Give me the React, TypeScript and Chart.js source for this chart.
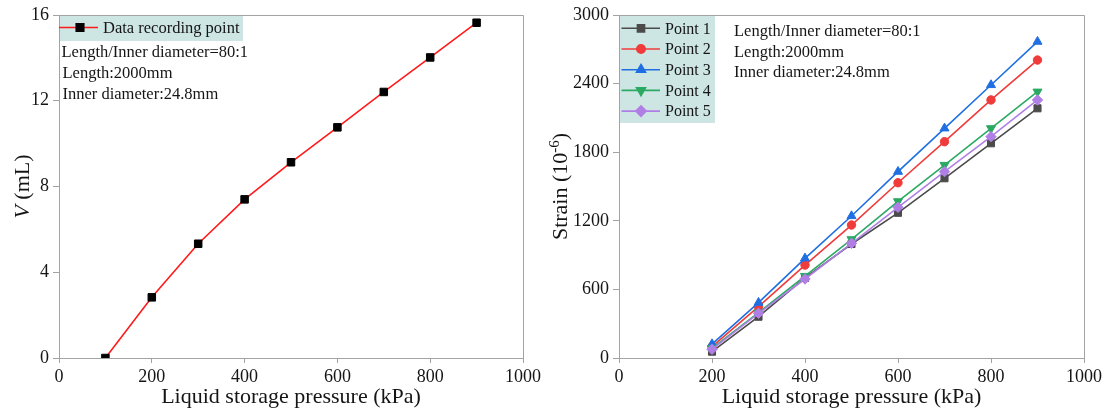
import React, { useEffect, useRef } from 'react';
import { Chart, registerables } from 'chart.js';
import { drawPoint } from 'chart.js/helpers';

Chart.register(...registerables);

const FONT = "'Liberation Serif', 'Times New Roman', serif";
const GRAY = '#a3a3a3';
const TEXT = '#151515';
const TEAL = '#cde6e3';

// ---- data ----
const xTitle = 'Liquid storage pressure (kPa)';
const xTicksMax = 1000;
const xStep = 200;

const leftPressure = [100, 200, 300, 400, 500, 600, 700, 800, 900];
const leftVolume = [0, 2.83, 5.33, 7.4, 9.13, 10.76, 12.41, 14.02, 15.64];
const leftSeriesLabel = 'Data recording point';
const leftYMax = 16;
const leftYStep = 4;

const rightPressure = [200, 300, 400, 500, 600, 700, 800, 900];
const point1 = [55, 361, 700, 997, 1270, 1572, 1878, 2184];
const point2 = [99, 449, 813, 1163, 1533, 1892, 2257, 2606];
const point3 = [122, 484, 872, 1242, 1630, 2009, 2388, 2767];
const point4 = [85, 396, 717, 1038, 1370, 1688, 2009, 2329];
const point5 = [76, 391, 691, 1003, 1318, 1630, 1936, 2257];
const rightLabels = ['Point 1', 'Point 2', 'Point 3', 'Point 4', 'Point 5'];
const rightYMax = 3000;
const rightYStep = 600;

const annotationLines = ['Length/Inner diameter=80:1', 'Length:2000mm', 'Inner diameter:24.8mm'];

// ---- styles ----
const rightStyles = [
  { color: '#4b4b4b', pointStyle: 'rect', radius: 5, rotation: 0 },
  { color: '#f03b3b', pointStyle: 'circle', radius: 4.2, rotation: 0 },
  { color: '#1f6fe3', pointStyle: 'triangle', radius: 5.2, rotation: 0 },
  { color: '#2aa963', pointStyle: 'triangle', radius: 5.2, rotation: 180 },
  { color: '#b07fe6', pointStyle: 'rectRot', radius: 5.2, rotation: 0 },
];

const customPlugin = {
  id: 'custom',
  afterDraw(chart: any, _args: any, opts: any) {
    const { ctx, chartArea: a } = chart;
    ctx.save();
    // frame: top and right
    ctx.strokeStyle = GRAY;
    ctx.lineWidth = 1;
    ctx.beginPath();
    ctx.moveTo(Math.round(a.left) - 0.5, Math.round(a.top) + 0.5);
    ctx.lineTo(Math.round(a.right) + 0.5, Math.round(a.top) + 0.5);
    ctx.lineTo(Math.round(a.right) + 0.5, Math.round(a.bottom) + 0.5);
    ctx.stroke();

    // legend
    const lg = opts.legend;
    if (lg) {
      ctx.fillStyle = TEAL;
      ctx.fillRect(a.left + 1, a.top + 1, lg.w, lg.h);
      chart.data.datasets.forEach((ds: any, i: number) => {
        const y = a.top + lg.row0 + i * lg.rowStep;
        ctx.strokeStyle = ds.borderColor;
        ctx.lineWidth = ds.borderWidth;
        ctx.beginPath();
        ctx.moveTo(a.left + lg.line0, y);
        ctx.lineTo(a.left + lg.line1, y);
        ctx.stroke();
        ctx.fillStyle = ds.pointBackgroundColor;
        ctx.strokeStyle = ds.pointBorderColor;
        drawPoint(ctx, { pointStyle: ds.pointStyle, radius: ds.pointRadius, rotation: ds.pointRotation || 0, borderWidth: 1 } as any, a.left + lg.marker, y);
        ctx.fillStyle = TEXT;
        ctx.font = `${lg.fontSize}px ${FONT}`;
        ctx.textBaseline = 'middle';
        ctx.textAlign = 'left';
        ctx.fillText(ds.label, a.left + lg.text, y + 1);
      });
    }

    // annotations
    const an = opts.annotations;
    if (an) {
      ctx.fillStyle = TEXT;
      ctx.font = `${an.fontSize}px ${FONT}`;
      ctx.textBaseline = 'middle';
      ctx.textAlign = 'left';
      annotationLines.forEach((t, i) => {
        ctx.fillText(t, a.left + an.xs[i], a.top + an.y0 + i * an.step);
      });
    }

    // y title
    const yt = opts.yTitle;
    if (yt) {
      const cy = (a.top + a.bottom) / 2;
      ctx.translate(yt.x, cy);
      ctx.rotate(-Math.PI / 2);
      ctx.fillStyle = TEXT;
      ctx.textBaseline = 'alphabetic';
      ctx.textAlign = 'left';
      let total = 0;
      const widths = yt.parts.map((p: any) => {
        ctx.font = `${p.italic ? 'italic ' : ''}${p.size}px ${FONT}`;
        const w = ctx.measureText(p.text).width;
        total += w;
        return w;
      });
      let cx = -total / 2;
      yt.parts.forEach((p: any, i: number) => {
        ctx.font = `${p.italic ? 'italic ' : ''}${p.size}px ${FONT}`;
        ctx.fillText(p.text, cx, -(p.raise || 0));
        cx += widths[i];
      });
    }
    ctx.restore();
  },
};

const plainNumber = (v: any) => String(v);

function xAxis() {
  return {
    type: 'linear',
    min: 0,
    max: xTicksMax,
    ticks: { stepSize: xStep, color: TEXT, font: { family: FONT, size: 18 }, padding: 3, maxRotation: 0, callback: plainNumber },
    grid: { drawOnChartArea: false, drawTicks: true, tickLength: 5, color: GRAY, lineWidth: 1 },
    border: { display: true, color: GRAY, width: 1 },
    title: { display: true, text: xTitle, color: TEXT, font: { family: FONT, size: 22 }, padding: { top: 0, bottom: 7 } },
    afterFit: (s: any) => { s.height = 59; },
  };
}

function yAxis(max: number, step: number, width: number) {
  return {
    type: 'linear',
    min: 0,
    max,
    ticks: { stepSize: step, color: TEXT, font: { family: FONT, size: 18 }, padding: 4, callback: plainNumber },
    grid: { drawOnChartArea: false, drawTicks: true, tickLength: 6, color: GRAY, lineWidth: 1 },
    border: { display: true, color: GRAY, width: 1 },
    afterFit: (s: any) => { s.width = width; },
  };
}

export default function App() {
  const leftRef = useRef<HTMLCanvasElement>(null);
  const rightRef = useRef<HTMLCanvasElement>(null);

  useEffect(() => {
    const left = new Chart(leftRef.current as HTMLCanvasElement, {
      type: 'line',
      data: {
        datasets: [
          {
            label: leftSeriesLabel,
            data: leftPressure.map((p, i) => ({ x: p, y: leftVolume[i] })),
            borderColor: '#ff1a1a',
            borderWidth: 1.6,
            pointStyle: 'rect',
            pointRadius: 5.3,
            pointBackgroundColor: '#000',
            pointBorderColor: '#000',
            pointBorderWidth: 1,
            tension: 0,
          } as any,
        ],
      },
      options: {
        animation: false,
        responsive: false,
        layout: { padding: { top: 15, right: 31, left: 0, bottom: 0 } },
        plugins: {
          legend: { display: false },
          tooltip: { enabled: false },
          custom: {
            legend: { w: 183, h: 25, row0: 12.5, rowStep: 0, line0: 0, line1: 39, marker: 21, text: 44, fontSize: 16.5 },
            annotations: { fontSize: 16.5, xs: [2.5, 3.5, 3.5], y0: 37.5, step: 21.2 },
            yTitle: { x: 28.5, parts: [ { text: 'V', italic: true, size: 22 }, { text: ' (mL)', size: 22 } ] },
          },
        } as any,
        scales: {
          x: xAxis() as any,
          y: yAxis(leftYMax, leftYStep, 59) as any,
        },
      },
      plugins: [customPlugin],
    });

    const seriesValues = [point1, point2, point3, point4, point5];
    const right = new Chart(rightRef.current as HTMLCanvasElement, {
      type: 'line',
      data: {
        datasets: seriesValues.map((vals, k) => ({
          label: rightLabels[k],
          data: rightPressure.map((p, i) => ({ x: p, y: vals[i] })),
          borderColor: rightStyles[k].color,
          borderWidth: 1.6,
          pointStyle: rightStyles[k].pointStyle,
          pointRotation: rightStyles[k].rotation,
          pointRadius: rightStyles[k].radius,
          pointBackgroundColor: rightStyles[k].color,
          pointBorderColor: rightStyles[k].color,
          pointBorderWidth: 1,
          tension: 0,
          order: 4 - k,
        })) as any,
      },
      options: {
        animation: false,
        responsive: false,
        layout: { padding: { top: 15, right: 24, left: 0, bottom: 0 } },
        plugins: {
          legend: { display: false },
          tooltip: { enabled: false },
          custom: {
            legend: { w: 95, h: 107, row0: 13.3, rowStep: 20.7, line0: 2.5, line1: 41, marker: 22, text: 46, fontSize: 16 },
            annotations: { fontSize: 16.5, xs: [115, 115, 115], y0: 16.7, step: 20.5 },
            yTitle: {
              x: 37,
              parts: [
                { text: 'Strain (10', size: 22 },
                { text: '-6', size: 15, raise: 8 },
                { text: ')', size: 22 },
              ],
            },
          },
        } as any,
        scales: {
          x: xAxis() as any,
          y: yAxis(rightYMax, rightYStep, 89) as any,
        },
      },
      plugins: [customPlugin],
    });

    return () => {
      left.destroy();
      right.destroy();
    };
  }, []);

  return (
    <div style={{ position: 'fixed', left: 0, top: 0, width: 1108, height: 417, background: '#fff' }}>
      <canvas ref={leftRef} width={554} height={417} style={{ position: 'absolute', left: 0, top: 0 }} />
      <canvas ref={rightRef} width={578} height={417} style={{ position: 'absolute', left: 530, top: 0 }} />
    </div>
  );
}
